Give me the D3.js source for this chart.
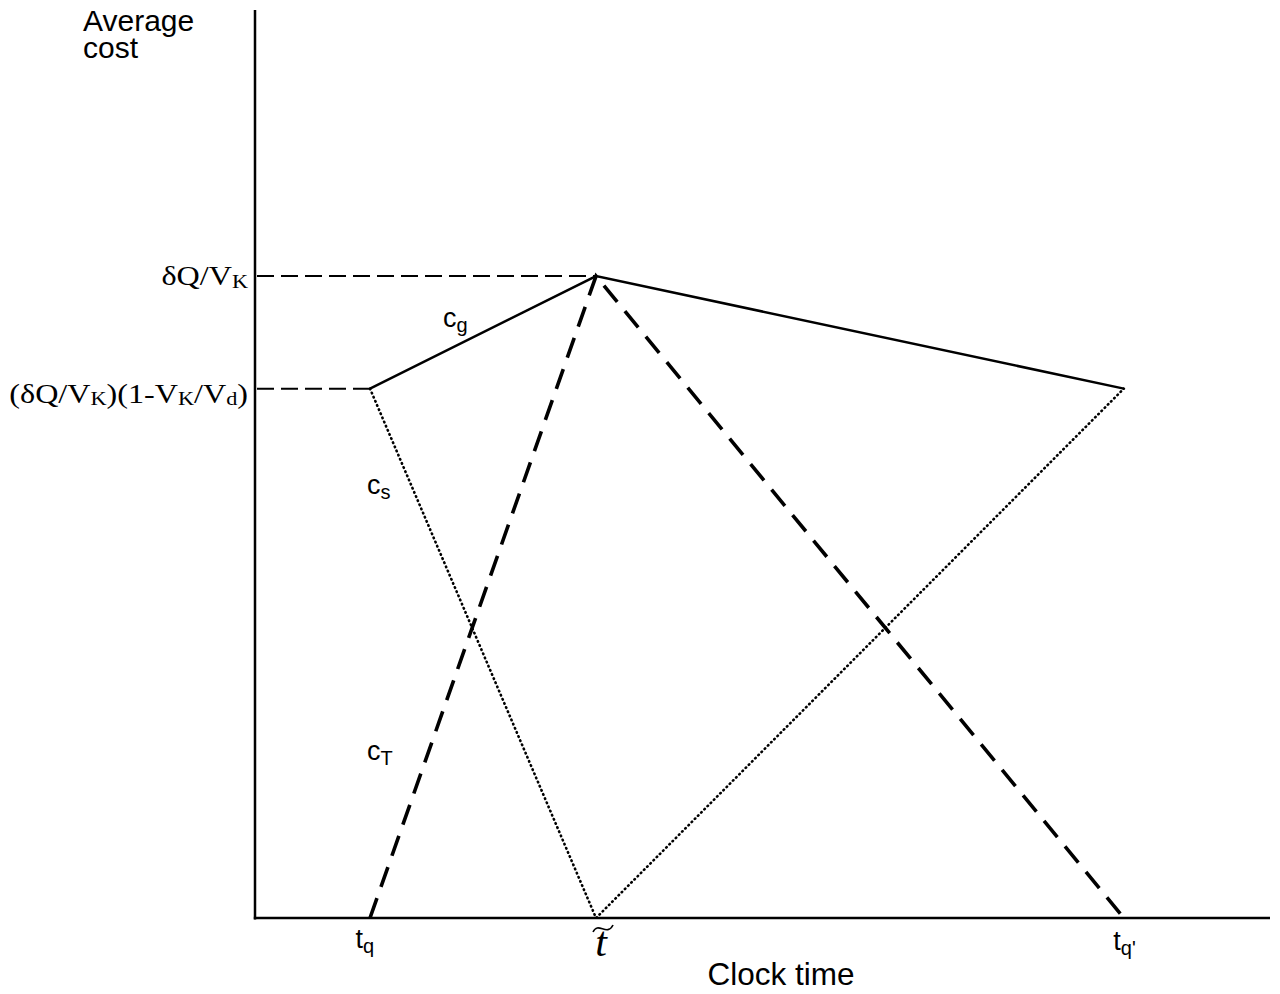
<!DOCTYPE html>
<html>
<head>
<meta charset="utf-8">
<script src="https://cdn.jsdelivr.net/npm/d3@7"></script>
<style>
  html, body { margin: 0; padding: 0; background: #fff; }
  svg { display: block; }
  .sans { font-family: "Liberation Sans", Arial, sans-serif; }
  .serif { font-family: "Liberation Serif", "Times New Roman", serif; }
</style>
</head>
<body>
<div id="chart"></div>
<script>
// Clock-time positions (abstract units along the time axis)
const timePoints = { tq: 11.33, tTilde: 33.6, tqPrime: 85.6 };
// Cost levels (abstract units)
const costLevels = { peak: 70.7, low: 58.3, zero: 0 };

// Schedule-delay cost c_s (dotted)
const csLine = [
  { t: timePoints.tq, c: costLevels.low },
  { t: timePoints.tTilde, c: costLevels.zero },
  { t: timePoints.tqPrime, c: costLevels.low }
];
// Travel-time cost c_T (dashed)
const cTLine = [
  { t: timePoints.tq, c: costLevels.zero },
  { t: timePoints.tTilde, c: costLevels.peak },
  { t: timePoints.tqPrime, c: costLevels.zero }
];
// Generalised cost c_g (solid)
const cgLine = [
  { t: timePoints.tq, c: costLevels.low },
  { t: timePoints.tTilde, c: costLevels.peak },
  { t: timePoints.tqPrime, c: costLevels.low }
];

const W = 1280, H = 994;
const svg = d3.select("#chart").append("svg").attr("width", W).attr("height", H);

const x = d3.scaleLinear().domain([0, 100]).range([255, 1270]);
const y = d3.scaleLinear().domain([0, 100]).range([918, 10]);

const line = d3.line().x(d => x(d.t)).y(d => y(d.c));

// Reference dashed levels to the vertical axis
[[costLevels.peak, timePoints.tTilde], [costLevels.low, timePoints.tq]].forEach(([lvl, tEnd]) => {
  svg.append("line")
    .attr("x1", x(0)).attr("x2", x(tEnd))
    .attr("y1", y(lvl)).attr("y2", y(lvl))
    .attr("stroke", "#000").attr("stroke-width", 2).attr("stroke-dasharray", "17,7")
    .attr("stroke-dashoffset", -2);
});

// Curves
svg.append("path").datum(csLine).attr("d", line)
  .attr("fill", "none").attr("stroke", "#000").attr("stroke-width", 2.6)
  .attr("stroke-linecap", "round").attr("stroke-dasharray", "0.6,3.9");
svg.append("path").datum(cTLine).attr("d", line)
  .attr("fill", "none").attr("stroke", "#000").attr("stroke-width", 3.6)
  .attr("stroke-dasharray", "21,12");
svg.append("path").datum(cgLine).attr("d", line)
  .attr("fill", "none").attr("stroke", "#000").attr("stroke-width", 2.5);

// Axes
svg.append("line").attr("x1", x(0)).attr("x2", x(0)).attr("y1", y(100)).attr("y2", y(0) + 1.5)
  .attr("stroke", "#000").attr("stroke-width", 2.5);
svg.append("line").attr("x1", x(0) - 1.2).attr("x2", x(100)).attr("y1", y(0)).attr("y2", y(0))
  .attr("stroke", "#000").attr("stroke-width", 2.5);

// Axis titles
svg.append("text").attr("class", "sans").attr("font-size", 30)
  .attr("x", 83).attr("y", 31).text("Average");
svg.append("text").attr("class", "sans").attr("font-size", 30)
  .attr("x", 83).attr("y", 58).text("cost");
svg.append("text").attr("class", "sans").attr("font-size", 31.5)
  .attr("x", 781).attr("y", 985).attr("text-anchor", "middle").text("Clock time");

// Cost-level labels (serif, slightly widened)
function levelLabel(baseY, parts) {
  const g = svg.append("g").attr("transform", `translate(248,${baseY}) scale(1.17,1)`);
  const t = g.append("text").attr("class", "serif").attr("font-size", 27.5)
    .attr("x", 0).attr("y", 0).attr("text-anchor", "end");
  parts.forEach(([s, sub]) => {
    const sp = t.append("tspan").text(s);
    if (sub) sp.attr("font-size", 19).attr("baseline-shift", "-3");
  });
}
levelLabel(y(costLevels.peak) + 9, [["δQ/V"], ["K", true]]);
levelLabel(y(costLevels.low) + 14, [["(δQ/V"], ["K", true], [")(1-V"], ["K", true], ["/V"], ["d", true], [")"]]);

// Labels with a subscript
function subLabel(px, py, main, sub) {
  const t = svg.append("text").attr("class", "sans").attr("font-size", 27)
    .attr("x", px).attr("y", py);
  t.append("tspan").text(main);
  t.append("tspan").attr("font-size", 20).attr("dy", 5).text(sub);
  return t;
}
subLabel(x(timePoints.tq) - 14.5, 948, "t", "q");
subLabel(x(timePoints.tqPrime) - 10.5, 950, "t", "q'");

// t-tilde tick label: italic serif t with a tilde drawn above it
const tx = x(timePoints.tTilde);
svg.append("text").attr("class", "serif").attr("font-size", 42).attr("font-style", "italic")
  .attr("x", tx + 5).attr("y", 956).attr("text-anchor", "middle").text("t");
svg.append("path")
  .attr("d", `M${tx - 3},${932} C${tx + 2},${921} ${tx + 11},${937} ${tx + 17},${925}`)
  .attr("fill", "none").attr("stroke", "#000").attr("stroke-width", 1.6);

// Curve labels
subLabel(443, 327, "c", "g");
subLabel(367, 494, "c", "s");
subLabel(367, 760, "c", "T");
</script>
</body>
</html>
